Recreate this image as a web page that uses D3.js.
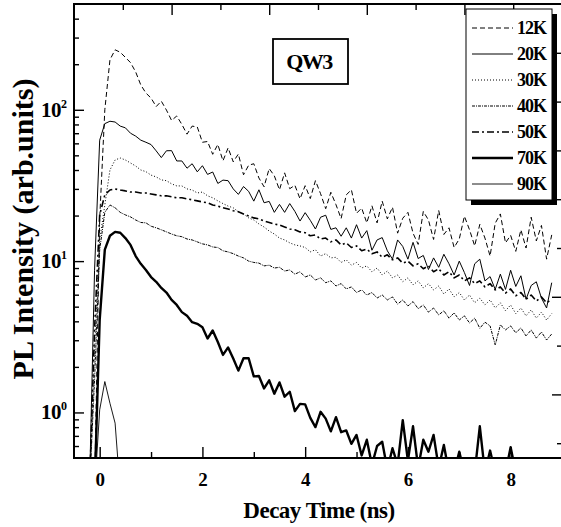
<!DOCTYPE html>
<html>
<head>
<meta charset="utf-8">
<script src="https://cdn.jsdelivr.net/npm/d3@7"></script>
<style>
  body { margin: 0; background: #fff; }
  text { font-family: "Liberation Serif", "Times New Roman", serif; font-weight: bold; fill: #000; }
</style>
</head>
<body>
<svg id="chart" width="561" height="527"></svg>
<script>
// decay time in ns, one sample every 0.1 ns
var decayTime = [-0.2, -0.1,
  0.0, 0.1, 0.2, 0.3, 0.4, 0.5, 0.6, 0.7, 0.8, 0.9,
  1.0, 1.1, 1.2, 1.3, 1.4, 1.5, 1.6, 1.7, 1.8, 1.9,
  2.0, 2.1, 2.2, 2.3, 2.4, 2.5, 2.6, 2.7, 2.8, 2.9,
  3.0, 3.1, 3.2, 3.3, 3.4, 3.5, 3.6, 3.7, 3.8, 3.9,
  4.0, 4.1, 4.2, 4.3, 4.4, 4.5, 4.6, 4.7, 4.8, 4.9,
  5.0, 5.1, 5.2, 5.3, 5.4, 5.5, 5.6, 5.7, 5.8, 5.9,
  6.0, 6.1, 6.2, 6.3, 6.4, 6.5, 6.6, 6.7, 6.8, 6.9,
  7.0, 7.1, 7.2, 7.3, 7.4, 7.5, 7.6, 7.7, 7.8, 7.9,
  8.0, 8.1, 8.2, 8.3, 8.4, 8.5, 8.6, 8.7, 8.8];

var pl12K = [0.3, 0.3,
  19, 100, 214, 249, 240, 222, 205, 178, 146, 129,
  119.5, 105, 114, 99.5, 85, 91, 80, 69, 78, 77,
  61, 61.7, 50.8, 59, 46, 56, 45.3, 51, 37.2, 43,
  44, 35.4, 31, 40.9, 36.6, 29.6, 38.3, 30.1, 31.7, 25.8,
  31.5, 25.9, 34, 27.9, 22.2, 28.5, 23.6, 19.1, 27.4, 29.6,
  20.7, 22.4, 17.9, 23.2, 17.9, 24.9, 19, 22.7, 15.3, 19.2,
  21, 15.3, 12.9, 21.3, 18.7, 13.9, 21.6, 15, 16.6, 12.3,
  14, 19.8, 16.1, 12.6, 17.5, 14.2, 10.8, 17.8, 20.5, 13.2,
  14.8, 11.6, 16.1, 12.2, 19.5, 13.6, 17.2, 10.3, 14.9];

var pl20K = [0.3, 8.7,
  63, 81, 84, 83, 78, 76, 70, 67, 63, 61,
  58.9, 53.5, 48.3, 53.6, 53.7, 45.9, 45.9, 41.1, 44, 38.9,
  42.7, 37.4, 38.8, 32.6, 34.3, 34, 30, 27.6, 31.1, 28.9,
  24.9, 29.6, 24.3, 24.8, 21, 23.7, 21, 24, 21.3, 18.4,
  20.9, 18.6, 16.3, 19.5, 20.1, 16.2, 16.6, 14.6, 16.6, 14.2,
  17.4, 14.2, 15.9, 11.8, 13.8, 14.3, 11.7, 10.3, 13.8, 12.5,
  10.3, 13.3, 10.4, 10.9, 8.8, 10.5, 9.1, 11.1, 9.6, 8.1,
  10, 8.4, 6.9, 9.6, 10.3, 7.4, 7.9, 6.5, 8.2, 6.5,
  8.7, 6.8, 8, 5.6, 6.9, 7.3, 5.7, 4.9, 7.2];

var pl30K = [0.3, 2.6,
  13.8, 23.5, 40, 46.6, 48, 46.6, 44.5, 42.5, 40, 39,
  37, 36, 34.4, 34, 32.4, 31.4, 31.4, 30, 29.5, 28.2,
  28.6, 27, 26.2, 25, 24, 23.1, 22.5, 21.2, 20.5, 19.3,
  18.7, 17.6, 16.8, 15.8, 15.1, 14.2, 13.8, 13.2, 12.8, 12.6,
  12.3, 11.5, 11.9, 10.8, 11.2, 10.5, 10.6, 9.8, 10.2, 9.4,
  9.8, 9, 9.3, 8.5, 9, 8.1, 8.6, 7.75, 8.1, 7.3,
  7.75, 6.96, 7.4, 6.65, 7.1, 6.45, 6.85, 6.05, 6.55, 5.8,
  6.2, 5.54, 5.97, 5.3, 5.7, 5.13, 5.54, 4.9, 5.3, 4.7,
  5.13, 4.5, 4.9, 4.35, 4.76, 4.2, 4.6, 4.08, 4.5];

var pl40K = [0.3, 1.64,
  11.9, 21, 23.5, 22.5, 21, 20.2, 19.6, 18.7, 18, 17.9,
  17, 16.6, 16.1, 15.6, 15.1, 14.7, 14.5, 14, 13.8, 13.4,
  13, 12.8, 12.4, 12.3, 11.7, 11.5, 11.2, 10.8, 10.5, 10,
  9.8, 9.7, 9.3, 9.4, 9, 9.1, 8.6, 8.74, 8.2, 8.5,
  7.85, 8.1, 7.5, 7.75, 7.2, 7.4, 6.85, 7.1, 6.55, 6.75,
  6.2, 6.45, 5.97, 6.2, 5.7, 5.97, 5.54, 5.8, 5.2, 5.54,
  5.05, 5.4, 4.85, 5.13, 4.6, 4.9, 4.41, 4.7, 4.2, 4.55,
  4.08, 4.35, 3.9, 4.2, 3.6, 3.95, 3.73, 2.79, 3.79, 3.51,
  3.73, 3.36, 3.62, 3.2, 3.51, 3.1, 3.4, 3.01, 3.3];

var pl50K = [0.3, 3.5,
  20.2, 27.4, 29.5, 30, 29.5, 29.1, 28.6, 28.6, 28.2, 28.2,
  27.8, 27.4, 27, 27, 26.6, 26.2, 26.2, 25.8, 25.4, 25,
  24.6, 24.3, 23.5, 23.1, 22.5, 22.1, 21.5, 21.2, 20.5, 19.9,
  19.3, 19, 18.4, 18, 17.6, 17.3, 16.8, 16.3, 16.1, 15.6,
  15.4, 14.7, 14.9, 14, 14.2, 13.4, 13.8, 12.8, 13.2, 12.3,
  12.6, 11.7, 12, 11.2, 11.5, 10.6, 11, 10.2, 10.5, 9.7,
  10, 9.3, 9.6, 8.9, 9.3, 8.5, 8.9, 8.1, 8.5, 7.75,
  8.1, 7.4, 7.75, 7.1, 7.4, 6.75, 7.1, 6.45, 6.75, 6.15,
  6.55, 5.9, 6.2, 5.6, 5.97, 5.45, 5.8, 5.3, 5.6];

var pl70K = [0.3, 0.3,
  4.08, 11.9, 14.7, 15.6, 15.4, 14.2, 12.8, 10.8, 9.6, 8.74,
  7.85, 7.3, 6.65, 6.2, 5.54, 5.13, 4.6, 4.35, 3.95, 3.85,
  3.66, 3.08, 3.48, 2.92, 2.4, 2.69, 2.27, 1.89, 2.28, 2.28,
  1.73, 1.74, 1.44, 1.63, 1.33, 1.58, 1.27, 1.37, 1.02, 1.14,
  1.13, 0.92, 0.8, 1.01, 0.91, 0.75, 0.93, 0.74, 0.76, 0.62,
  0.71, 0.52, 0.66, 0.45, 0.6, 0.64, 0.42, 0.58, 0.45, 0.89,
  0.48, 0.81, 0.43, 0.66, 0.55, 0.71, 0.43, 0.61, 0.4, 0.4,
  0.55, 0.4, 0.4, 0.4, 0.81, 0.4, 0.56, 0.4, 0.4, 0.4,
  0.59, 0.4, 0.4, 0.4, 0.4, 0.4, 0.4, 0.4, 0.4];

// 90K drops below the axis after 0.4 ns
var pl90K = [0.3, 0.3, 1.04, 1.6, 1.15, 0.85, 0.3, 0.3];

var seriesNames = ["12K", "20K", "30K", "40K", "50K", "70K", "90K"];
var seriesValues = [pl12K, pl20K, pl30K, pl40K, pl50K, pl70K, pl90K];

var yMajor = [1, 10, 100];
var yExp = ["0", "1", "2"];
var xMajor = [0, 2, 4, 6, 8];

// line styles by series (same order as seriesNames)
var styles = [
  { dash: "5,3", w: 1 },
  { dash: null, w: 1 },
  { dash: "1,2", w: 1 },
  { dash: "3,1,1,1", w: 1 },
  { dash: "7,3,2,3", w: 1.6 },
  { dash: null, w: 2.4 },
  { dash: null, w: 0.9 }
];

var svg = d3.select("#chart"),
    margin = { top: 4, right: 0, bottom: 69, left: 74 },
    width = 562 - margin.left,
    height = 527 - margin.top - margin.bottom;

var x = d3.scaleLinear().domain([-0.5, 9.0]).range([0, width]),
    y = d3.scaleLog().domain([0.5, 500]).range([height, 0]);
// the top and right axes of the original plot have their own spacing
var xTop = d3.scaleLinear().domain([0, 5]).range([0, width]);
var yRight = d3.scaleLinear().domain([0, 5]).range([0, 488]);

var g = svg.append("g").attr("transform", "translate(" + margin.left + "," + margin.top + ")");

g.append("clipPath").attr("id", "plotclip")
  .append("rect").attr("width", width).attr("height", height);

// curves
var line = d3.line()
  .x(function (d) { return x(d[0]); })
  .y(function (d) { return y(d[1]); });

var curves = g.append("g").attr("clip-path", "url(#plotclip)");
seriesValues.forEach(function (vals, i) {
  var pts = vals.map(function (v, k) { return [decayTime[k], v]; });
  curves.append("path")
    .datum(pts)
    .attr("fill", "none")
    .attr("stroke", "#000")
    .attr("stroke-width", styles[i].w)
    .attr("stroke-dasharray", styles[i].dash)
    .attr("stroke-linejoin", "round")
    .attr("d", line);
});

// bottom axis
var bottom = g.append("g").attr("transform", "translate(0," + height + ")");
bottom.call(d3.axisBottom(x).tickValues(xMajor).tickSize(-11).tickPadding(15));
bottom.select(".domain").remove();
bottom.selectAll("text").style("font-size", "19px");
g.append("g").attr("transform", "translate(0," + height + ")")
  .call(d3.axisBottom(x).tickValues([1, 3, 5, 7]).tickSize(-6).tickFormat(""))
  .select(".domain").remove();

// top axis
g.append("g")
  .call(d3.axisTop(xTop).tickValues([1, 2, 3, 4]).tickSize(-11).tickFormat(""))
  .select(".domain").remove();
g.append("g")
  .call(d3.axisTop(xTop).tickValues([0.5, 1.5, 2.5, 3.5, 4.5]).tickSize(-6).tickFormat(""))
  .select(".domain").remove();

// right axis
g.append("g").attr("transform", "translate(" + width + ",0)")
  .call(d3.axisRight(yRight).tickValues([1, 2, 3, 4]).tickSize(-10).tickFormat(""))
  .select(".domain").remove();
g.append("g").attr("transform", "translate(" + width + ",0)")
  .call(d3.axisRight(yRight).tickValues([0.5, 1.5, 2.5, 3.5, 4.5]).tickSize(-5).tickFormat(""))
  .select(".domain").remove();

// left axis
var yMinor = [];
[0.1, 1, 10, 100].forEach(function (dec) {
  for (var m = 2; m <= 9; m++) {
    var v = dec * m;
    if (v > 0.5 && v < 500) yMinor.push(v);
  }
});
g.append("g")
  .call(d3.axisLeft(y).tickValues(yMajor).tickSize(-10).tickFormat(""))
  .select(".domain").remove();
g.append("g")
  .call(d3.axisLeft(y).tickValues(yMinor).tickSize(-5).tickFormat(""))
  .select(".domain").remove();

var ylab = g.selectAll(".ylab").data(yMajor).enter().append("text")
  .attr("class", "ylab")
  .attr("x", -33)
  .attr("y", function (d) { return y(d) + 7; })
  .style("font-size", "21px").style("letter-spacing", "-0.5px");
ylab.append("tspan").text("10");
ylab.append("tspan").attr("dy", -9).style("font-size", "12px")
  .text(function (d, i) { return yExp[i]; });

g.selectAll(".tick line").attr("stroke", "#000").attr("stroke-width", 1.4);

// frame
g.append("rect")
  .attr("width", width).attr("height", height)
  .attr("fill", "none").attr("stroke", "#000").attr("stroke-width", 2);

// QW3 box
g.append("rect").attr("x", 273 - margin.left).attr("y", 39 - margin.top)
  .attr("width", 75).attr("height", 45)
  .attr("fill", "#fff").attr("stroke", "#000").attr("stroke-width", 1.8);
g.append("text").attr("x", 309 - margin.left).attr("y", 69 - margin.top)
  .attr("text-anchor", "middle").style("font-size", "22px").style("letter-spacing", "-1.5px")
  .text("QW3");

// legend with drop shadow
var lg = svg.append("g").attr("transform", "translate(466,9)");
lg.append("rect").attr("x", 5).attr("y", 5).attr("width", 86).attr("height", 191).attr("fill", "#000");
lg.append("rect").attr("width", 86).attr("height", 191)
  .attr("fill", "#fff").attr("stroke", "#000").attr("stroke-width", 1);
seriesNames.forEach(function (name, i) {
  var yy = 19 + i * 26;
  lg.append("line").attr("x1", 6).attr("x2", 47).attr("y1", yy).attr("y2", yy)
    .attr("stroke", "#000").attr("stroke-width", styles[i].w)
    .attr("stroke-dasharray", styles[i].dash);
  lg.append("text").attr("x", 51).attr("y", yy + 6)
    .style("font-size", "18px").style("letter-spacing", "-1px").text(name);
});

// axis titles
svg.append("text")
  .attr("transform", "translate(33,229) rotate(-90)")
  .attr("text-anchor", "middle").style("font-size", "30px")
  .text("PL Intensity (arb.units)");
svg.append("text")
  .attr("x", 319).attr("y", 518)
  .attr("text-anchor", "middle").style("font-size", "23px").style("letter-spacing", "-0.5px")
  .text("Decay Time (ns)");
</script>
</body>
</html>
